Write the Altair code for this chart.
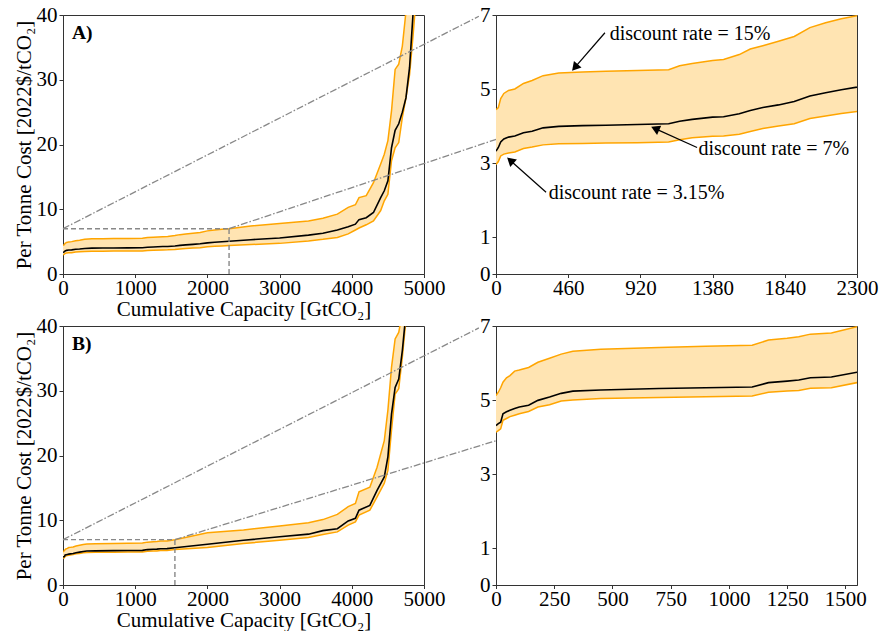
import math
import altair as alt
import pandas as pd

FONT = "Liberation Serif"
ORANGE = "#FFA500"
FILL = "#FFE4B2"
AXIS_C = "#333333"
DASH_GREY = "#888888"

# ---------------- data: panel A ----------------
a_x = [0, 15, 30, 50, 80, 120, 175, 230, 300, 400, 550, 700, 900, 1100, 1170, 1250, 1380, 1450,
       1550, 1620, 1700, 1800, 1900, 2000, 2100, 2200, 2300, 2600, 3000, 3400, 3600, 3800, 3950,
       4050, 4100, 4200, 4300, 4400, 4450, 4500, 4550, 4600, 4650, 4700, 4750, 4800, 4850, 4900]
a_hi = [4.44, 4.50, 4.74, 4.88, 4.96, 5.00, 5.15, 5.23, 5.36, 5.43, 5.46, 5.48, 5.50, 5.52, 5.63, 5.69,
        5.77, 5.80, 5.93, 6.08, 6.17, 6.29, 6.42, 6.66, 6.79, 6.90, 6.98, 7.4, 7.8, 8.2, 8.6, 9.25, 10.3,
        10.7, 11.8, 12.1, 14.1, 17.0, 18.5, 20.6, 25.2, 31.6, 32.4, 35.2, 40.5, 46, 50, 55]
a_mid = [3.32, 3.42, 3.57, 3.65, 3.70, 3.73, 3.82, 3.86, 3.95, 3.99, 4.01, 4.02, 4.04, 4.06, 4.13, 4.18,
         4.24, 4.25, 4.33, 4.42, 4.50, 4.57, 4.66, 4.81, 4.90, 4.98, 5.05, 5.3, 5.55, 6.0, 6.3, 6.8, 7.3,
         7.7, 8.4, 8.7, 9.5, 11.8, 12.85, 14.4, 19.5, 22.2, 23.2, 25.0, 27.2, 31.9, 40.5, 46]
a_lo = [2.96, 3.04, 3.19, 3.24, 3.27, 3.30, 3.39, 3.43, 3.49, 3.52, 3.53, 3.54, 3.55, 3.57, 3.63, 3.68,
        3.72, 3.73, 3.78, 3.85, 3.93, 4.00, 4.06, 4.20, 4.27, 4.34, 4.39, 4.55, 4.73, 5.1, 5.35, 5.65, 6.2,
        6.8, 7.1, 7.6, 8.2, 9.8, 11.3, 12.3, 17.5, 19.5, 20.3, 24.2, 27.2, 30.8, 37, 44]

# ---------------- data: panel B ----------------
b_x = [0, 10, 20, 30, 45, 60, 80, 100, 140, 180, 230, 280, 330, 450, 700, 900, 1100, 1170, 1250, 1300,
       1350, 1440, 1550, 2000, 2500, 3000, 3400, 3600, 3800, 3950, 4050, 4100, 4250, 4350, 4450, 4500,
       4550, 4600, 4650, 4700, 4750, 4800]
b_hi = [5.12, 5.21, 5.33, 5.48, 5.60, 5.66, 5.78, 5.81, 5.88, 6.02, 6.13, 6.24, 6.32, 6.37, 6.42, 6.45,
        6.48, 6.62, 6.67, 6.71, 6.78, 6.81, 6.98, 8.06, 8.5, 9.1, 9.6, 10.1, 10.9, 12.1, 12.6, 14.4, 15.1,
        18.2, 22.3, 27.0, 33.6, 38.0, 39.0, 42, 46, 50]
b_mid = [4.31, 4.36, 4.40, 4.63, 4.68, 4.72, 4.77, 4.81, 4.86, 4.99, 5.08, 5.18, 5.24, 5.27, 5.31, 5.33,
         5.35, 5.47, 5.51, 5.54, 5.60, 5.62, 5.75, 6.3, 6.9, 7.45, 7.85, 8.4, 8.7, 9.9, 10.3, 11.55, 12.3,
         14.6, 16.7, 19.8, 26.4, 30.5, 31.8, 36.2, 42, 47]
b_lo = [4.13, 4.17, 4.22, 4.45, 4.50, 4.55, 4.59, 4.63, 4.69, 4.81, 4.87, 4.97, 5.00, 5.04, 5.07, 5.09,
        5.11, 5.21, 5.24, 5.26, 5.32, 5.33, 5.47, 5.8, 6.4, 6.9, 7.35, 7.8, 8.2, 9.25, 9.75, 10.8, 11.55,
        13.6, 15.7, 17.7, 23.9, 29.5, 30.3, 35.2, 41, 46]

# axis ticks
left_x_ticks = [0, 1000, 2000, 3000, 4000, 5000]
left_y_ticks = [0, 10, 20, 30, 40]
right_y_ticks = [0, 1, 3, 5, 7]
a_right_x_ticks = [0, 460, 920, 1380, 1840, 2300]
b_right_x_ticks = [0, 250, 500, 750, 1000, 1250, 1500]

# zoom extents and connector end points (left panel data units)
a_zoom_x = 2300
b_zoom_x = 1550
zoom_y = 7
a_conn_end = [(5760, 39.8), (6000, 20.8)]
b_conn_end = [(5760, 39.7), (6000, 22.3)]

# annotations (panel A right)
ann_text = ["discount rate = 15%", "discount rate = 7%", "discount rate = 3.15%"]
ann_tx = [724, 1290, 336]
ann_ty = [6.49, 3.39, 2.18]
arr_tail_x = [694, 1281, 319]
arr_tail_y = [6.52, 3.42, 2.21]
arr_head_x = [484, 988, 70]
arr_head_y = [5.49, 3.98, 3.15]

W, H = 361, 259
HSPACE, VSPACE = 72, 52

X_TITLE = "Cumulative Capacity [GtCO₂]"
Y_TITLE = "Per Tonne Cost [2022$/tCO₂]"


def curves(df, xs, ys, ysc):
    base = alt.Chart(df)
    area = base.mark_area(color=FILL, opacity=1, clip=True).encode(
        x=xs, y=ys, y2="hi:Q")
    hi = base.mark_line(color=ORANGE, strokeWidth=1.5, clip=True).encode(x=xs, y=alt.Y("hi:Q", scale=ysc))
    lo = base.mark_line(color=ORANGE, strokeWidth=1.5, clip=True).encode(x=xs, y=alt.Y("lo:Q", scale=ysc))
    mid = base.mark_line(color="black", strokeWidth=1.6, clip=True).encode(x=xs, y=alt.Y("mid:Q", scale=ysc))
    return [area, hi, lo, mid]


def left_panel(xv, hiv, midv, lov, zx, conn, label):
    df = pd.DataFrame({"x": xv, "hi": hiv, "mid": midv, "lo": lov})
    xsc = alt.Scale(domain=[0, 5000], nice=False, zero=False)
    ysc = alt.Scale(domain=[0, 40], nice=False, zero=False)
    xs = alt.X("x:Q", scale=xsc,
               axis=alt.Axis(values=left_x_ticks, title=X_TITLE, format="d"))
    ys = alt.Y("lo:Q", scale=ysc,
               axis=alt.Axis(values=left_y_ticks, title=Y_TITLE, format="d"))
    layers = curves(df, xs, ys, ysc)
    rect = pd.DataFrame({"x1": [0, zx], "y1": [zoom_y, 0], "x2": [zx, zx], "y2": [zoom_y, zoom_y]})
    layers.append(alt.Chart(rect).mark_rule(color=DASH_GREY, strokeWidth=1.4, strokeDash=[5, 3]).encode(
        x=alt.X("x1:Q", scale=xsc), y=alt.Y("y1:Q", scale=ysc), x2="x2:Q", y2="y2:Q"))
    cdf = pd.DataFrame({"x1": [0, zx], "y1": [zoom_y, zoom_y],
                        "x2": [conn[0][0], conn[1][0]], "y2": [conn[0][1], conn[1][1]]})
    layers.append(alt.Chart(cdf).mark_rule(color=DASH_GREY, strokeWidth=1.3, strokeDash=[7, 2, 1.5, 2],
                                           clip=False).encode(
        x=alt.X("x1:Q", scale=xsc), y=alt.Y("y1:Q", scale=ysc), x2="x2:Q", y2="y2:Q"))
    ldf = pd.DataFrame({"t": [label], "x": [125], "y": [37.2]})
    layers.append(alt.Chart(ldf).mark_text(font=FONT, fontSize=19.5, fontWeight="bold", align="left",
                                           baseline="middle", color="black").encode(
        x=alt.X("x:Q", scale=xsc), y=alt.Y("y:Q", scale=ysc), text="t:N"))
    return alt.layer(*layers).properties(width=W, height=H)


def right_panel(xv, hiv, midv, lov, xmax, xticks, annotate):
    df = pd.DataFrame({"x": xv, "hi": hiv, "mid": midv, "lo": lov})
    xsc = alt.Scale(domain=[0, xmax], nice=False, zero=False)
    ysc = alt.Scale(domain=[0, 7], nice=False, zero=False)
    xs = alt.X("x:Q", scale=xsc, axis=alt.Axis(values=xticks, title=None, format="d"))
    ys = alt.Y("lo:Q", scale=ysc, axis=alt.Axis(values=right_y_ticks, title=None, format="d"))
    layers = curves(df, xs, ys, ysc)
    if annotate:
        pxx = W / xmax
        pxy = H / 7.0
        tip_x, tip_y, ang = [], [], []
        for tx, ty, hx, hy in zip(arr_tail_x, arr_tail_y, arr_head_x, arr_head_y):
            dxp = (hx - tx) * pxx
            dyp = -(hy - ty) * pxy
            L = math.hypot(dxp, dyp)
            ux, uy = dxp / L, dyp / L
            cxp, cyp = -ux * 4.5, -uy * 4.5
            tip_x.append(hx + cxp / pxx)
            tip_y.append(hy - cyp / pxy)
            ang.append(math.degrees(math.atan2(dxp, -dyp)) % 360)
        adf = pd.DataFrame({"tx": arr_tail_x, "ty": arr_tail_y, "hx": tip_x, "hy": tip_y, "ang": ang,
                            "lx": ann_tx, "ly": ann_ty, "t": ann_text})
        base = alt.Chart(adf)
        layers.append(base.mark_rule(color="black", strokeWidth=1.2).encode(
            x=alt.X("tx:Q", scale=xsc), y=alt.Y("ty:Q", scale=ysc), x2="hx:Q", y2="hy:Q"))
        layers.append(base.mark_point(shape="triangle-up", filled=True, size=100, color="black",
                                      opacity=1).encode(
            x=alt.X("hx:Q", scale=xsc), y=alt.Y("hy:Q", scale=ysc), angle=alt.Angle("ang:Q", scale=None)))
        layers.append(base.mark_text(font=FONT, fontSize=20, align="left", baseline="middle",
                                     color="black").encode(
            x=alt.X("lx:Q", scale=xsc), y=alt.Y("ly:Q", scale=ysc), text="t:N"))
    return alt.layer(*layers).properties(width=W, height=H)


leftA = left_panel(a_x, a_hi, a_mid, a_lo, a_zoom_x, a_conn_end, "A)")
rightA = right_panel(a_x, a_hi, a_mid, a_lo, 2300, a_right_x_ticks, True)
leftB = left_panel(b_x, b_hi, b_mid, b_lo, b_zoom_x, b_conn_end, "B)")
rightB = right_panel(b_x, b_hi, b_mid, b_lo, 1550, b_right_x_ticks, False)

chart = alt.concat(leftA, rightA, leftB, rightB, columns=2, bounds="flush",
                   spacing={"row": VSPACE, "column": HSPACE},
                   padding={"left": 12, "top": 3, "right": 0, "bottom": 0},
                   background="white").configure_axis(
    labelFont=FONT, labelFontSize=21, labelColor="black",
    titleFont=FONT, titleFontSize=21, titleFontWeight="normal", titleColor="black",
    tickColor=AXIS_C, domainColor=AXIS_C, grid=False,
    labelFlush=False, labelOverlap=False,
).configure_axisX(
    tickSize=3.5, labelPadding=0, titlePadding=0,
).configure_axisY(
    tickSize=4, labelPadding=2, titlePadding=2,
).configure_view(stroke=AXIS_C, strokeWidth=1)

chart.save("out.html", embed_options={"renderer": "svg", "actions": False})
